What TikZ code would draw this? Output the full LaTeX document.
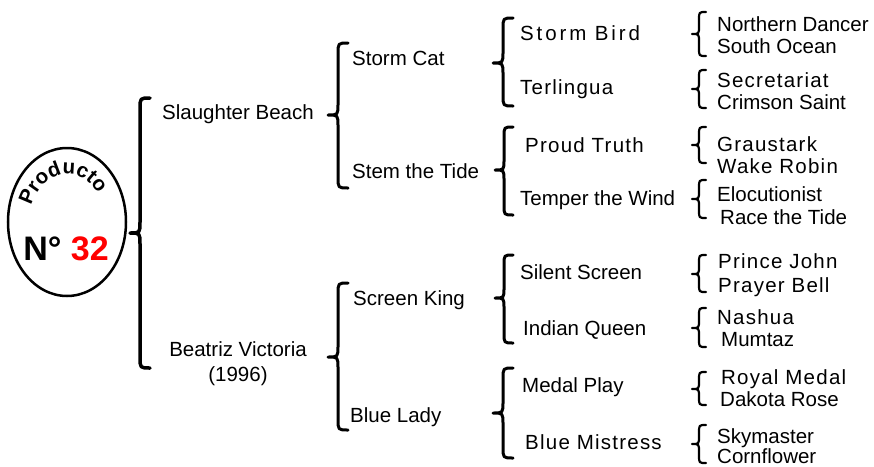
\documentclass[tikz,border=0pt]{standalone}
\usepackage{fontspec}
\setmainfont{Liberation Sans}
\usetikzlibrary{decorations.text,shapes.geometric}
\newcommand\prodfont{\fontsize{20.5}{20.5}\selectfont\bfseries}
% brace: line width, tip x, right x, top y, middle y, bottom y
\newcommand\curly[6]{%
  \pgfmathsetmacro\sx{(#2+#3)/2}%
  \pgfmathsetmacro\hh{(#3-#2)/2+1}%
  \draw[line width=#1,line cap=round,line join=round]
    (#3,#4) .. controls (\sx,#4) .. (\sx,{#4+\hh}) -- (\sx,{#5-\hh})
    .. controls (\sx,#5) .. (#2,#5) .. controls (\sx,#5) .. (\sx,{#5+\hh})
    -- (\sx,{#6-\hh}) .. controls (\sx,#6) .. (#3,#6);}
\begin{document}
\begin{tikzpicture}[x=1pt,y=-1pt,
  lab/.style={font=\fontsize{20.5}{24}\selectfont, inner sep=0pt, anchor=base west},
  sp/.style={lab, font=\fontsize{20.5}{24}\selectfont\addfontfeature{LetterSpace=6}},
  wide/.style={lab, font=\fontsize{20.5}{24}\selectfont\addfontfeature{LetterSpace=14}},
  ctr/.style={lab, anchor=base}]
\useasboundingbox (0,0) rectangle (874,466);
% emblem
\node[draw, ellipse, line width=2.5pt, minimum width=118pt, minimum height=148pt, inner sep=0pt] (prod) at (67,222) {};
\path[decorate, decoration={text along path, text={|\prodfont|Producto}, text align=center}]
  (67,223) ++(-175:38 and 49) arc[start angle=-175, end angle=-20, x radius=38, y radius=49];
\node[inner sep=0pt, anchor=base, font=\fontsize{34}{34}\selectfont\bfseries] (num) at (66,260) {N° \textcolor{red}{32}};
% braces
\curly{3.5pt}{130}{150}{98}{233}{368}
\curly{3pt}{328}{348}{43}{115}{188}
\curly{3pt}{328}{348}{283}{357}{430}
\curly{3pt}{493}{513}{18}{63}{106}
\curly{3pt}{495}{513}{127}{170}{215}
\curly{3pt}{495}{513}{255}{298}{343}
\curly{3pt}{493}{513}{368}{413}{458}
\curly{2.2pt}{692}{706}{12}{34}{56}
\curly{2.2pt}{692}{706}{70}{89}{108}
\curly{2.2pt}{692}{706}{127}{145}{163}
\curly{2.2pt}{692}{706}{180}{199}{218}
\curly{2.2pt}{692}{706}{255}{274}{292}
\curly{2.2pt}{692}{706}{308}{328}{347}
\curly{2.2pt}{692}{706}{372}{389}{405}
\curly{2.2pt}{692}{706}{425}{444}{463}
% generation 1
\node[ctr] (sb) at (238,119.5) {Slaughter Beach};
\node[ctr] (bv) at (238,356.5) {Beatriz Victoria};
\node[ctr] (yr) at (238,381) {(1996)};
% generation 2
\node[lab] (sc) at (352,65.5) {Storm Cat};
\node[lab] (st) at (352,178.5) {Stem the Tide};
\node[lab] (sk) at (353,305.5) {Screen King};
\node[lab] (bl) at (350,422.5) {Blue Lady};
% generation 3
\node[wide] (sbi) at (520,40.5) {Storm Bird};
\node[sp] (ter) at (520,94.5) {Terlingua};
\node[sp] (pt) at (525,152.5) {Proud Truth};
\node[lab] (tw) at (520,205.5) {Temper the Wind};
\node[lab] (ss) at (520,279.5) {Silent Screen};
\node[lab] (iq) at (523,335.5) {Indian Queen};
\node[lab] (mp) at (522,392.5) {Medal Play};
\node[sp] (bm) at (525,449.5) {Blue Mistress};
% generation 4
\node[lab] (nd) at (717,31.5) {Northern Dancer};
\node[lab] (so) at (717,53.5) {South Ocean};
\node[sp] (sec) at (717,87.5) {Secretariat};
\node[lab] (cs) at (717,109.5) {Crimson Saint};
\node[sp] (gr) at (717,151.5) {Graustark};
\node[sp] (wr) at (717,173.5) {Wake Robin};
\node[lab] (el) at (717,201.5) {Elocutionist};
\node[lab] (rt) at (720,224.5) {Race the Tide};
\node[sp] (pj) at (718,268.5) {Prince John};
\node[sp] (pb) at (718,292.5) {Prayer Bell};
\node[sp] (na) at (717,324.5) {Nashua};
\node[lab] (mu) at (721,346.5) {Mumtaz};
\node[sp] (rm) at (721,384.5) {Royal Medal};
\node[lab] (dr) at (720,406.5) {Dakota Rose};
\node[lab] (sky) at (717,443.5) {Skymaster};
\node[lab] (cf) at (717,463.5) {Cornflower};
\end{tikzpicture}
\end{document}
